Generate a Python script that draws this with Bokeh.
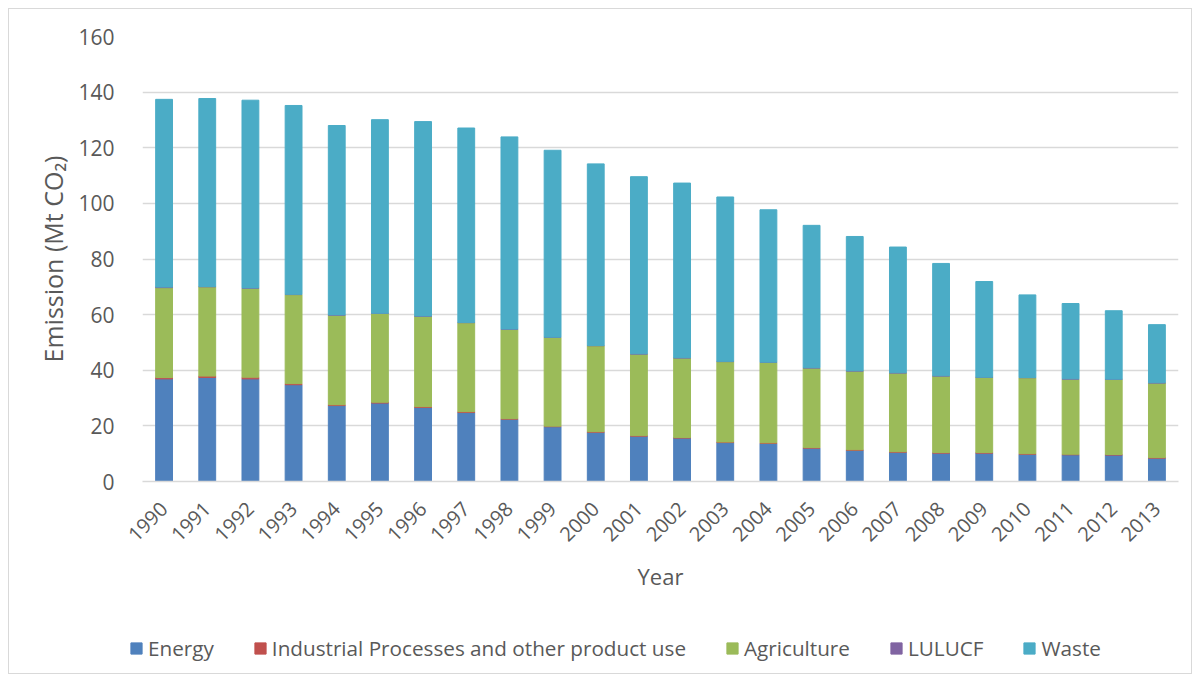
from math import pi
from bokeh.plotting import figure
from bokeh.layouts import column
from bokeh.models import (ColumnDataSource, FactorRange, Range1d, FixedTicker,
                          Legend, LegendItem)
from bokeh.embed import file_html
from bokeh.resources import INLINE

years = ["1990", "1991", "1992", "1993", "1994", "1995", "1996", "1997",
         "1998", "1999", "2000", "2001", "2002", "2003", "2004", "2005",
         "2006", "2007", "2008", "2009", "2010", "2011", "2012", "2013"]

energy = [36.9, 37.4, 36.9, 34.8, 27.3, 28.2, 26.6, 24.8, 22.4, 19.7, 17.7, 16.3,
          15.6, 14.0, 13.7, 12.0, 11.2, 10.5, 10.2, 10.2, 9.8, 9.6, 9.5, 8.4]
industrial = [0.5, 0.5, 0.6, 0.4, 0.3, 0.3, 0.3, 0.3, 0.2, 0.2, 0.2, 0.2,
              0.2, 0.2, 0.2, 0.2, 0.2, 0.2, 0.2, 0.2, 0.2, 0.2, 0.2, 0.2]
agriculture = [32.3, 32.1, 32.0, 32.0, 32.2, 31.9, 32.5, 32.0, 32.1, 31.9, 30.9, 29.3,
               28.6, 28.9, 28.9, 28.6, 28.3, 28.3, 27.5, 27.0, 27.3, 27.0, 27.0, 26.8]
lulucf = [0.2, 0.1, 0.1, 0.1, 0.1, 0.1, 0.1, 0.1, 0.1, 0.1, 0.1, 0.1,
          0.1, 0.1, 0.1, 0.1, 0.1, 0.1, 0.1, 0.1, 0.1, 0.1, 0.1, 0.1]
waste = [67.5, 67.6, 67.5, 67.9, 68.1, 69.6, 69.9, 69.9, 69.1, 67.2, 65.3, 63.7,
         62.8, 59.1, 54.8, 51.2, 48.3, 45.2, 40.4, 34.4, 29.7, 27.1, 24.6, 20.9]

series_keys = ["energy", "industrial", "agriculture", "lulucf", "waste"]
series_names = ["Energy", "Industrial Processes and other product use",
                "Agriculture", "LULUCF", "Waste"]
colors = ["#4f81bd", "#c0504d", "#9bbb59", "#8064a2", "#4bacc6"]
y_ticks = [0, 20, 40, 60, 80, 100, 120, 140, 160]

source = ColumnDataSource(dict(year=years, energy=energy, industrial=industrial,
                               agriculture=agriculture, lulucf=lulucf, waste=waste))

TEXT = "#595959"
GRID = "#d9d9d9"
FONT = "Open Sans"

p = figure(width=1200, height=610, x_range=FactorRange(*years, range_padding=0),
           y_range=Range1d(0, 160), output_backend="svg", toolbar_location=None,
           min_border_left=142, min_border_right=22, min_border_top=36,
           min_border_bottom=129)
p.outline_line_color = None
p.border_fill_alpha = 0
p.background_fill_alpha = 0

p.vbar_stack(series_keys, x="year", width=0.39, color=colors, source=source)

p.xgrid.grid_line_color = None
p.ygrid.grid_line_color = GRID
p.ygrid.grid_line_width = 1.3
p.yaxis.ticker = FixedTicker(ticks=y_ticks)

p.yaxis.axis_line_color = None
p.yaxis.major_tick_line_color = None
p.yaxis.minor_tick_line_color = None
p.yaxis.major_label_text_font = FONT
p.yaxis.major_label_text_font_size = "21px"
p.yaxis.major_label_text_color = TEXT
p.yaxis.major_label_standoff = 22
p.yaxis.axis_label = "Emission (Mt CO₂)"
p.yaxis.axis_label_text_font = FONT
p.yaxis.axis_label_text_font_size = "25px"
p.yaxis.axis_label_text_font_style = "normal"
p.yaxis.axis_label_text_color = TEXT
p.yaxis.axis_label_standoff = 5

p.xaxis.axis_line_color = GRID
p.xaxis.axis_line_width = 1.5
p.xaxis.major_tick_line_color = None
p.xaxis.minor_tick_line_color = None
p.xaxis.major_label_orientation = pi / 4
p.xaxis.major_label_text_font = FONT
p.xaxis.major_label_text_font_size = "20px"
p.xaxis.major_label_text_color = TEXT
p.xaxis.major_label_standoff = 18
p.xaxis.axis_label = "Year"
p.xaxis.axis_label_text_font = FONT
p.xaxis.axis_label_text_font_size = "22px"
p.xaxis.axis_label_text_font_style = "normal"
p.xaxis.axis_label_text_color = TEXT
p.xaxis.axis_label_standoff = 10

# legend strip (its swatches come from hidden, off-range placeholder bars)
leg = figure(width=1200, height=72, x_range=Range1d(0, 1), y_range=Range1d(0, 1),
             output_backend="svg", toolbar_location=None,
             x_axis_location=None, y_axis_location=None,
             min_border=0, min_border_left=0, min_border_right=0,
             min_border_top=0, min_border_bottom=0)
leg_x = 0
if "frame_align" in leg.properties():
    leg.frame_align = False
    leg_x = 129
leg.grid.visible = False
leg.outline_line_color = None
leg.border_fill_alpha = 0
leg.background_fill_alpha = 0
dummy = [leg.vbar(x=[-5], top=[-5], bottom=[-6], width=0.5, color=c) for c in colors]
items = [LegendItem(label=n, renderers=[r]) for n, r in zip(series_names, dummy)]
legend = Legend(items=items, location=(leg_x, 20), orientation="horizontal",
                spacing=39, label_standoff=5, glyph_width=14, glyph_height=14,
                padding=0, margin=0, border_line_color=None,
                background_fill_alpha=0, label_text_font=FONT,
                label_text_font_size="20.7px", label_text_color=TEXT)
leg.add_layout(legend)

layout = column(p, leg, spacing=0)
layout.styles = {"outline": "1px solid #d9d9d9", "outline-offset": "-9px"}

open("out.html", "w").write(file_html(layout, INLINE))
